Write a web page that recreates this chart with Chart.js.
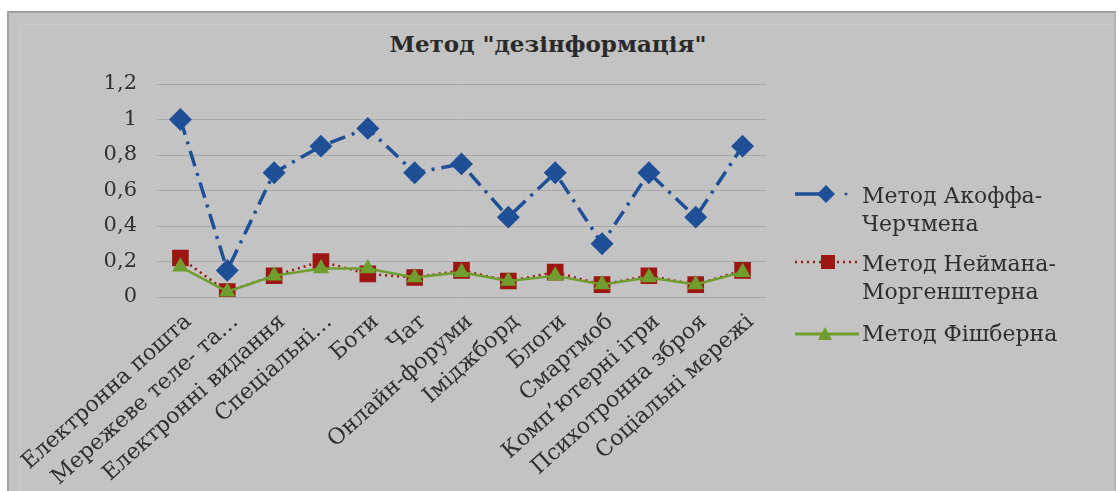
<!DOCTYPE html>
<html lang="uk">
<head>
<meta charset="UTF-8">
<title>Метод "дезінформація"</title>
<script src="https://cdn.jsdelivr.net/npm/chart.js"></script>
<style>
    body {
        margin: 0;
        background: #ffffff;
        font-family: "DejaVu Serif", serif;
    }
    .wrap {
        position: relative;
        width: 1119px;
        height: 491px;
        overflow: hidden;
    }
    .panel {
        position: absolute;
        left: 7px;
        top: 11px;
        width: 1105px;
        height: 490px;
        background: #c3c3c3;
        border-top: 2px solid #9e9e9e;
        border-left: 2px solid #a4a4a4;
        border-right: 2px solid #b4b4b4;
    }
    .panel .inner {
        position: absolute;
        left: 11px;
        top: 11px;
        right: 0;
        bottom: 0;
        border-top: 1px solid #cbcbcb;
        border-left: 1px solid #cbcbcb;
    }
    canvas {
        position: absolute;
        left: 0;
        top: 0;
    }
    .title {
        position: absolute;
        left: 0;
        width: 1096px;
        top: 30px;
        text-align: center;
        font-weight: bold;
        font-size: 23px;
        color: #2a2a2a;
    }
    .legend-item {
        position: absolute;
        left: 795px;
        display: flex;
        align-items: flex-start;
    }
    .legend-item svg {
        flex: none;
    }
    .legend-item span {
        white-space: pre-line;
        font-size: 22px;
        line-height: 28px;
        color: #2e2e2e;
        margin-left: 3px;
    }
</style>
</head>
<body>
<div class="wrap">
    <div class="panel"><div class="inner"></div></div>
    <div class="title">Метод "дезінформація"</div>
    <canvas id="chart" width="1119" height="491"></canvas>
    <div id="legend"></div>
</div>

<script>
    const categories = [
        'Електронна пошта', 'Мережеве теле- та…', 'Електронні видання', 'Спеціальні…',
        'Боти', 'Чат', 'Онлайн-форуми', 'Іміджборд', 'Блоги', 'Смартмоб',
        'Комп\u2019ютерні ігри', 'Психотронна зброя', 'Соціальні мережі'
    ];
    const akoffValues = [1, 0.15, 0.7, 0.85, 0.95, 0.7, 0.75, 0.45, 0.7, 0.3, 0.7, 0.45, 0.85];
    const neumannValues = [0.22, 0.03, 0.12, 0.2, 0.13, 0.11, 0.15, 0.09, 0.14, 0.07, 0.12, 0.07, 0.15];
    const fishburnValues = [0.17, 0.03, 0.12, 0.16, 0.16, 0.11, 0.14, 0.09, 0.12, 0.07, 0.11, 0.07, 0.14];
    const seriesNames = ['Метод Акоффа-Черчмена', 'Метод Неймана-Моргенштерна', 'Метод Фішберна'];
    const yTicks = [0, 0.2, 0.4, 0.6, 0.8, 1, 1.2];

    const BLUE = '#1f4f96';
    const RED = '#9c1612';
    const GREEN = '#6f9e2e';

    const ctx = document.getElementById('chart').getContext('2d');
    const chart = new Chart(ctx, {
        type: 'line',
        data: {
            labels: categories,
            datasets: [
                {
                    label: seriesNames[0],
                    data: akoffValues,
                    borderColor: BLUE,
                    backgroundColor: BLUE,
                    borderWidth: 3.5,
                    borderDash: [16, 7, 3, 7],
                    pointStyle: 'rectRot',
                    pointRadius: 9,
                    order: 2
                },
                {
                    label: seriesNames[1],
                    data: neumannValues,
                    borderColor: RED,
                    backgroundColor: RED,
                    borderWidth: 2.5,
                    borderDash: [2, 4],
                    pointStyle: 'rect',
                    pointRadius: 10,
                    order: 1
                },
                {
                    label: seriesNames[2],
                    data: fishburnValues,
                    borderColor: GREEN,
                    backgroundColor: GREEN,
                    borderWidth: 2.5,
                    pointStyle: 'triangle',
                    pointRadius: 7,
                    order: 0
                }
            ]
        },
        options: {
            responsive: false,
            animation: false,
            layout: {
                padding: { top: 84, right: 353, bottom: 0, left: 0 }
            },
            plugins: {
                legend: { display: false },
                title: { display: false },
                tooltip: { enabled: false }
            },
            scales: {
                x: {
                    offset: true,
                    grid: { display: false },
                    border: { display: false },
                    ticks: {
                        autoSkip: false,
                        minRotation: 42,
                        maxRotation: 42,
                        padding: 4,
                        labelOffset: 8,
                        color: '#303030',
                        font: { family: '"DejaVu Serif", serif', size: 22 }
                    },
                    afterFit: function (scale) {
                        scale.height = 194;
                    }
                },
                y: {
                    min: yTicks[0],
                    max: yTicks[yTicks.length - 1],
                    afterBuildTicks: function (scale) {
                        scale.ticks = yTicks.map(v => ({ value: v }));
                    },
                    grid: {
                        color: '#a9a9a9',
                        lineWidth: 1,
                        drawTicks: false
                    },
                    border: { display: false },
                    ticks: {
                        padding: 20,
                        color: '#303030',
                        font: { family: '"DejaVu Serif", serif', size: 21 },
                        callback: function (v) {
                            return String(Number(v.toFixed(1))).replace('.', ',');
                        }
                    },
                    afterFit: function (scale) {
                        scale.width = 157;
                    }
                }
            }
        }
    });

    // legend on the right, built from the series names and dataset styles
    const legendTops = [182, 250, 320];
    const legendSamples = [
        '<line x1="0" y1="12" x2="38" y2="12" stroke="' + BLUE + '" stroke-width="3.5"/>' +
        '<polygon points="31,3 40,12 31,21 22,12" fill="' + BLUE + '"/>' +
        '<circle cx="51" cy="12" r="1.5" fill="' + BLUE + '"/>',
        '<line x1="0" y1="12" x2="62" y2="12" stroke="' + RED + '" stroke-width="2.5" stroke-dasharray="2 4"/>' +
        '<rect x="26" y="5" width="14" height="14" fill="' + RED + '"/>',
        '<line x1="0" y1="12" x2="66" y2="12" stroke="' + GREEN + '" stroke-width="3"/>' +
        '<polygon points="30,5 37,18 23,18" fill="' + GREEN + '"/>'
    ];
    const legendEl = document.getElementById('legend');
    seriesNames.forEach(function (name, i) {
        const item = document.createElement('div');
        item.className = 'legend-item';
        item.style.top = legendTops[i] + 'px';
        item.innerHTML = '<svg width="64" height="28" style="margin-top:' + (i === 2 ? 2 : 0) + 'px">' +
            legendSamples[i] + '</svg><span>' + name.replace('-', '-\n') + '</span>';
        legendEl.appendChild(item);
    });
</script>
</body>
</html>
